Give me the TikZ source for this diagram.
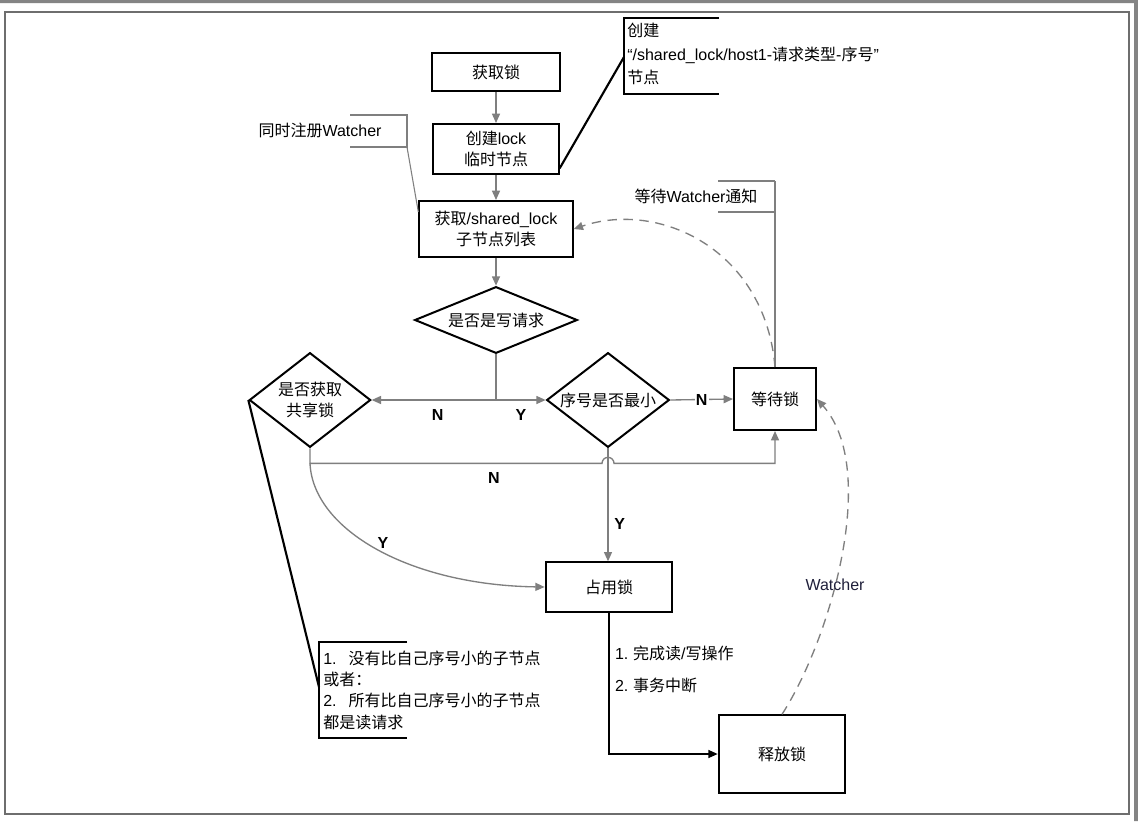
\documentclass[tikz,border=0pt]{standalone}
\usepackage{fontspec}
\setmainfont{Noto Sans CJK SC}
\newfontfamily\lat{Liberation Sans}
\usetikzlibrary{arrows.meta,shapes.geometric}
\definecolor{flowgray}{HTML}{7F7F7F}
\definecolor{framegray}{HTML}{6E6E6E}
\definecolor{ink}{HTML}{1F1F3A}
\tikzset{
  box/.style={draw,line width=1.5pt,align=center,inner sep=2pt},
  decide/.style={diamond,draw,line width=1.5pt,align=center,inner sep=0pt},
  flow/.style={draw=flowgray,line width=1pt,-{Triangle[length=7pt,width=6pt]}},
  wire/.style={draw=flowgray,line width=1pt,dash pattern=on 7pt off 5pt,-{Triangle[length=7pt,width=6pt]}},
  yn/.style={font=\fontsize{12}{14}\lat\bfseries},
  note/.style={align=left,inner sep=0pt},
  leader/.style={line width=1.6pt},
  thinleader/.style={draw=flowgray,line width=0.8pt}
}

\begin{document}
\begin{tikzpicture}[x=0.75pt,y=-0.75pt,font=\fontsize{12}{16}\selectfont]
  \useasboundingbox (0,0) rectangle (1138,821);
  % page frame
  \fill[white] (0,0) rectangle (1138,821);
  \fill[framegray!85] (0,0) rectangle (1138,3) (1134,0) rectangle (1138,821);
  \draw[framegray,line width=1.2pt] (5,12) rectangle (1129,814);

  % steps
  \node[box,minimum width=96pt,minimum height=28.5pt] (get) at (496,72) {获取锁};
  \node[box,minimum width=94pt,minimum height=37.5pt] (create) at (496,149) {创建{\lat lock}\\临时节点};
  \node[box,minimum width=115pt,minimum height=42pt] (list) at (496,229) {获取{\lat /shared\_lock}\\子节点列表};
  \node[decide,aspect=2.4,minimum width=122pt,minimum height=50pt] (write) at (496,320) {是否是写请求};
  \node[decide,aspect=1.3,minimum width=91pt,minimum height=71pt] (shared) at (310,400) {是否获取\\共享锁};
  \node[decide,aspect=1.3,minimum width=92pt,minimum height=71pt] (seq) at (608,400) {序号是否最小};
  \node[box,minimum width=61.5pt,minimum height=46.5pt] (wait) at (775,399) {等待锁};
  \node[box,minimum width=95pt,minimum height=37pt] (hold) at (609,587) {占用锁};
  \node[box,minimum width=95pt,minimum height=58pt] (release) at (782,754) {释放锁};

  % flow
  \draw[flow] (get) -- (create);
  \draw[flow] (create) -- (list);
  \draw[flow] (list) -- (write);
  \coordinate (split) at (write.south |- shared.east);
  \draw[flow] (write.south) -- (split) -- (shared.east) node[yn,pos=0.47,below=3pt]{N};
  \draw[flow] (split) -- (seq.west) node[yn,midway,below=3pt]{Y};
  \draw[flow] (seq.east) -- (wait.west) node[yn,midway,fill=white,inner sep=1pt]{N};
  \coordinate (turn) at ([yshift=-11.25pt]shared.south);
  \path (seq.south |- turn) coordinate (hop);
  \draw[flow] (shared.south) -- (turn) -- ([xshift=-4.5pt]hop) node[yn,pos=0.63,below=3pt]{N}
    arc[start angle=180,end angle=360,radius=6] -- (wait.south |- turn) -- (wait.south);
  \draw[flow] (seq.south) -- (seq.south |- hold.north) node[yn,pos=0.67,right=1pt]{Y};
  \draw[flow] (turn) .. controls (313,530) and (410,585) .. (hold.west) node[yn,pos=0.52,above=-1pt]{Y};
  \draw[line width=1.1pt,-{Triangle[length=7pt,width=6pt]}] (hold.south) |- (release.west)
    node[pos=0.2,right=4pt,align=left,inner sep=0pt]{{\lat 1.} 完成读{\lat /}写操作\\[8pt]{\lat 2.} 事务中断};

  % watcher notifications
  \draw[wire] (wait.north) .. controls (765,250) and (660,200) .. (list.east);
  \draw[wire] (release.north) .. controls (830,640) and (880,470) .. (wait.east)
    node[pos=0.42,text=ink,font=\fontsize{12}{14}\lat]{Watcher};

  % callouts
  \node[note,anchor=west] (path) at (627,54) {创建\\[1.5pt]{\lat “/shared\_lock/host1-}请求类型{\lat -}序号{\lat ”}\\[1.5pt]节点};
  \draw[leader] (719,18) -- (624,18) -- (624,94) -- (719,94);
  \coordinate (pathtip) at (624,57);
  \draw[leader] (pathtip) -- ([yshift=5pt]create.south east);

  \node (register) at (320,130) {同时注册{\lat Watcher}};
  \draw[thinleader] (350,115) -- (407,115) -- (407,147) -- (350,147);
  \coordinate (regtip) at (407,147);
  \draw[thinleader] (regtip) -- ([yshift=-9pt]list.north west);

  \node (notify) at (696,196) {等待{\lat Watcher}通知};
  \draw[thinleader] (718,181) -- (775,181) (718,212) -- (775,212);
  \coordinate (notetip) at (775,181);
  \draw[thinleader] (notetip) -- (wait.north);

  \node[note,anchor=west] (rule) at (323,690) {{\lat 1.}\hspace{9pt}没有比自己序号小的子节点\\或者：\\{\lat 2.}\hspace{9pt}所有比自己序号小的子节点\\都是读请求};
  \draw[leader] (407,642) -- (319,642) -- (319,738) -- (407,738);
  \coordinate (ruletip) at (319,687);
  \draw[leader] (shared.west) -- (ruletip);
\end{tikzpicture}
\end{document}
